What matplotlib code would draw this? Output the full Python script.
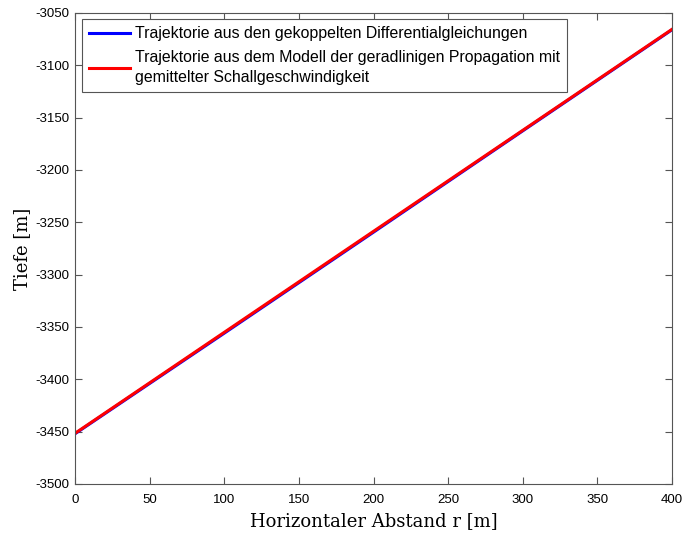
import matplotlib
matplotlib.use("Agg")
import matplotlib.pyplot as plt

r_blue = [0, 100, 200, 300, 400]
z_blue = [-3452.0, -3355.9, -3259.4, -3162.6, -3066.0]
r_red = [0, 400]
z_red = [-3451.6, -3065.6]

xticks = [0, 50, 100, 150, 200, 250, 300, 350, 400]
yticks = [-3500, -3450, -3400, -3350, -3300, -3250, -3200, -3150, -3100, -3050]

plt.rcParams['font.family'] = ['Liberation Sans', 'DejaVu Sans']
plt.rcParams['axes.unicode_minus'] = False
fig = plt.figure(figsize=(6.84, 5.33), dpi=100)
L, R, T, B = 75, 672, 13, 484
W, H = 684, 533
ax = fig.add_axes([L / W, (H - B) / H, (R - L) / W, (B - T) / H])

ax.plot(r_blue, z_blue, color='#0000ff', lw=2.2,
        label='Trajektorie aus den gekoppelten Differentialgleichungen')
ax.plot(r_red, z_red, color='#ff0000', lw=2.2,
        label='Trajektorie aus dem Modell der geradlinigen Propagation mit\ngemittelter Schallgeschwindigkeit')

ax.set_xlim(0, 400)
ax.set_ylim(-3500, -3050)
ax.set_xticks(xticks)
ax.set_yticks(yticks)
ax.tick_params(direction='in', top=True, right=True, labelsize=9.5, length=4.8,
               width=0.8, color='#555555')
ax.tick_params(axis='x', pad=7.5)
ax.tick_params(axis='y', pad=3.8)
for s in ax.spines.values():
    s.set_color('#555555')
    s.set_linewidth(0.8)

ax.set_xlabel('Horizontaler Abstand r [m]', family='DejaVu Serif', fontsize=13)
ax.set_ylabel('Tiefe [m]', family='DejaVu Serif', fontsize=13)
ax.xaxis.set_label_coords(0.5, -(512 - B) / (B - T))
ax.yaxis.set_label_coords(-(L - 31) / (R - L), 0.5)

leg = ax.legend(loc='upper left', bbox_to_anchor=((82 - L) / (R - L), (B - 19) / (B - T)),
                borderaxespad=0, fontsize=11.4, fancybox=False, framealpha=1,
                edgecolor='#555555', handlelength=2.6, labelspacing=0.55,
                handletextpad=0.3, borderpad=0.45)
for t in leg.get_texts():
    t.set_linespacing(1.45)
leg.get_frame().set_linewidth(0.8)

fig.savefig('out.png', dpi=100)
